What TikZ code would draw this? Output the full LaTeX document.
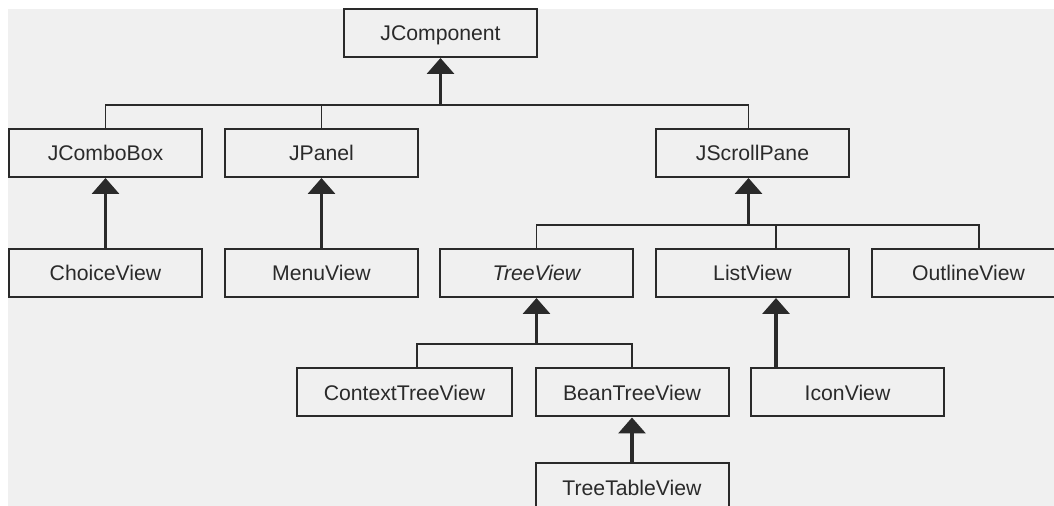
\documentclass[tikz,border=0pt]{standalone}
\usepackage{fontspec}
\setmainfont{Liberation Sans}
\usetikzlibrary{arrows.meta,positioning}

\definecolor{panelgray}{HTML}{F0F0F0}
\definecolor{linegray}{HTML}{2A2A2A}

\begin{document}
\begin{tikzpicture}[
	x=0.5pt, y=-0.5pt,
	basic/.style    = {draw=linegray, line width=1pt, rectangle, minimum width=96.5pt, minimum height=24pt, inner sep=0pt, text height=7.6pt, text depth=0pt, align=center, text=linegray, font=\fontsize{10.6}{12}\selectfont},
	abstract/.style = {basic, font=\fontsize{10.6}{12}\selectfont\itshape},
	link/.style     = {draw=linegray, line width=0.9pt},
	inherit/.style  = {draw=linegray, line width=1.7pt, -{Triangle[width=13.5pt,length=8pt]}},
	]

	% canvas and grey panel
	\useasboundingbox (0,0) rectangle (1054,506);
	\clip (0,0) rectangle (1054,506);
	\fill[panelgray] (8,9) rectangle (1054,506);

	% root of the hierarchy
	\node[basic] (comp) at (440.5,33) {JComponent};

	% first level
	\node[basic] (combo)  at (105.5,153) {JComboBox};
	\node[basic] (panel)  at (321.5,153) {JPanel};
	\node[basic] (scroll) at (752.5,153) {JScrollPane};

	% second level, partly relative to the parents
	\node[basic, below=35pt of combo]  (choice) {ChoiceView};
	\node[basic, below=35pt of panel]  (menu)   {MenuView};
	\node[abstract] (tree) at (536.5,273) {TreeView};
	\node[basic, below=35pt of scroll] (list)   {ListView};
	\node[basic] (outline) at (968.5,273) {OutlineView};

	% third level
	\node[basic, minimum width=107.5pt] (ctx) at (404.5,392.5) {ContextTreeView};
	\node[basic] (bean) at (632,392.5) {BeanTreeView};
	\node[basic] (icon) at (847.5,392.5) {IconView};
	\node[basic, below=22.5pt of bean] (ttable) {TreeTableView};

	% junctions on the bars and off-centre connector ends
	\coordinate (bar1) at (440.5,105);
	\coordinate (bar2) at (748.5,225);
	\coordinate (bar3) at (536.5,344);
	\coordinate (stop) at ([xshift=-2pt]scroll.north);
	\coordinate (ltop) at ([xshift=11.75pt]list.north);
	\coordinate (otop) at ([xshift=5.25pt]outline.north);
	\coordinate (ctop) at ([xshift=6.25pt]ctx.north);

	% bars joining the siblings
	\draw[link] (combo.north) |- (bar1) -| (stop);
	\draw[link] (panel.north) -- (panel.north |- bar1);
	\draw[link] (tree.north) |- (bar2) -| (otop);
	\draw[link] (ltop) -- (ltop |- bar2);
	\draw[link] (ctop) |- (bar3) -| (bean.north);

	% generalisation arrows
	\draw[inherit] (bar1) -- (comp.south);
	\draw[inherit] (bar2) -- (bar2 |- scroll.south);
	\draw[inherit] (bar3) -- (tree.south);
	\draw[inherit] (icon.north -| ltop) -- (list.south -| ltop);

	\foreach \child/\parent in {choice/combo, menu/panel, ttable/bean}
	\draw[inherit] (\child.north) -- (\parent.south);

\end{tikzpicture}
\end{document}
